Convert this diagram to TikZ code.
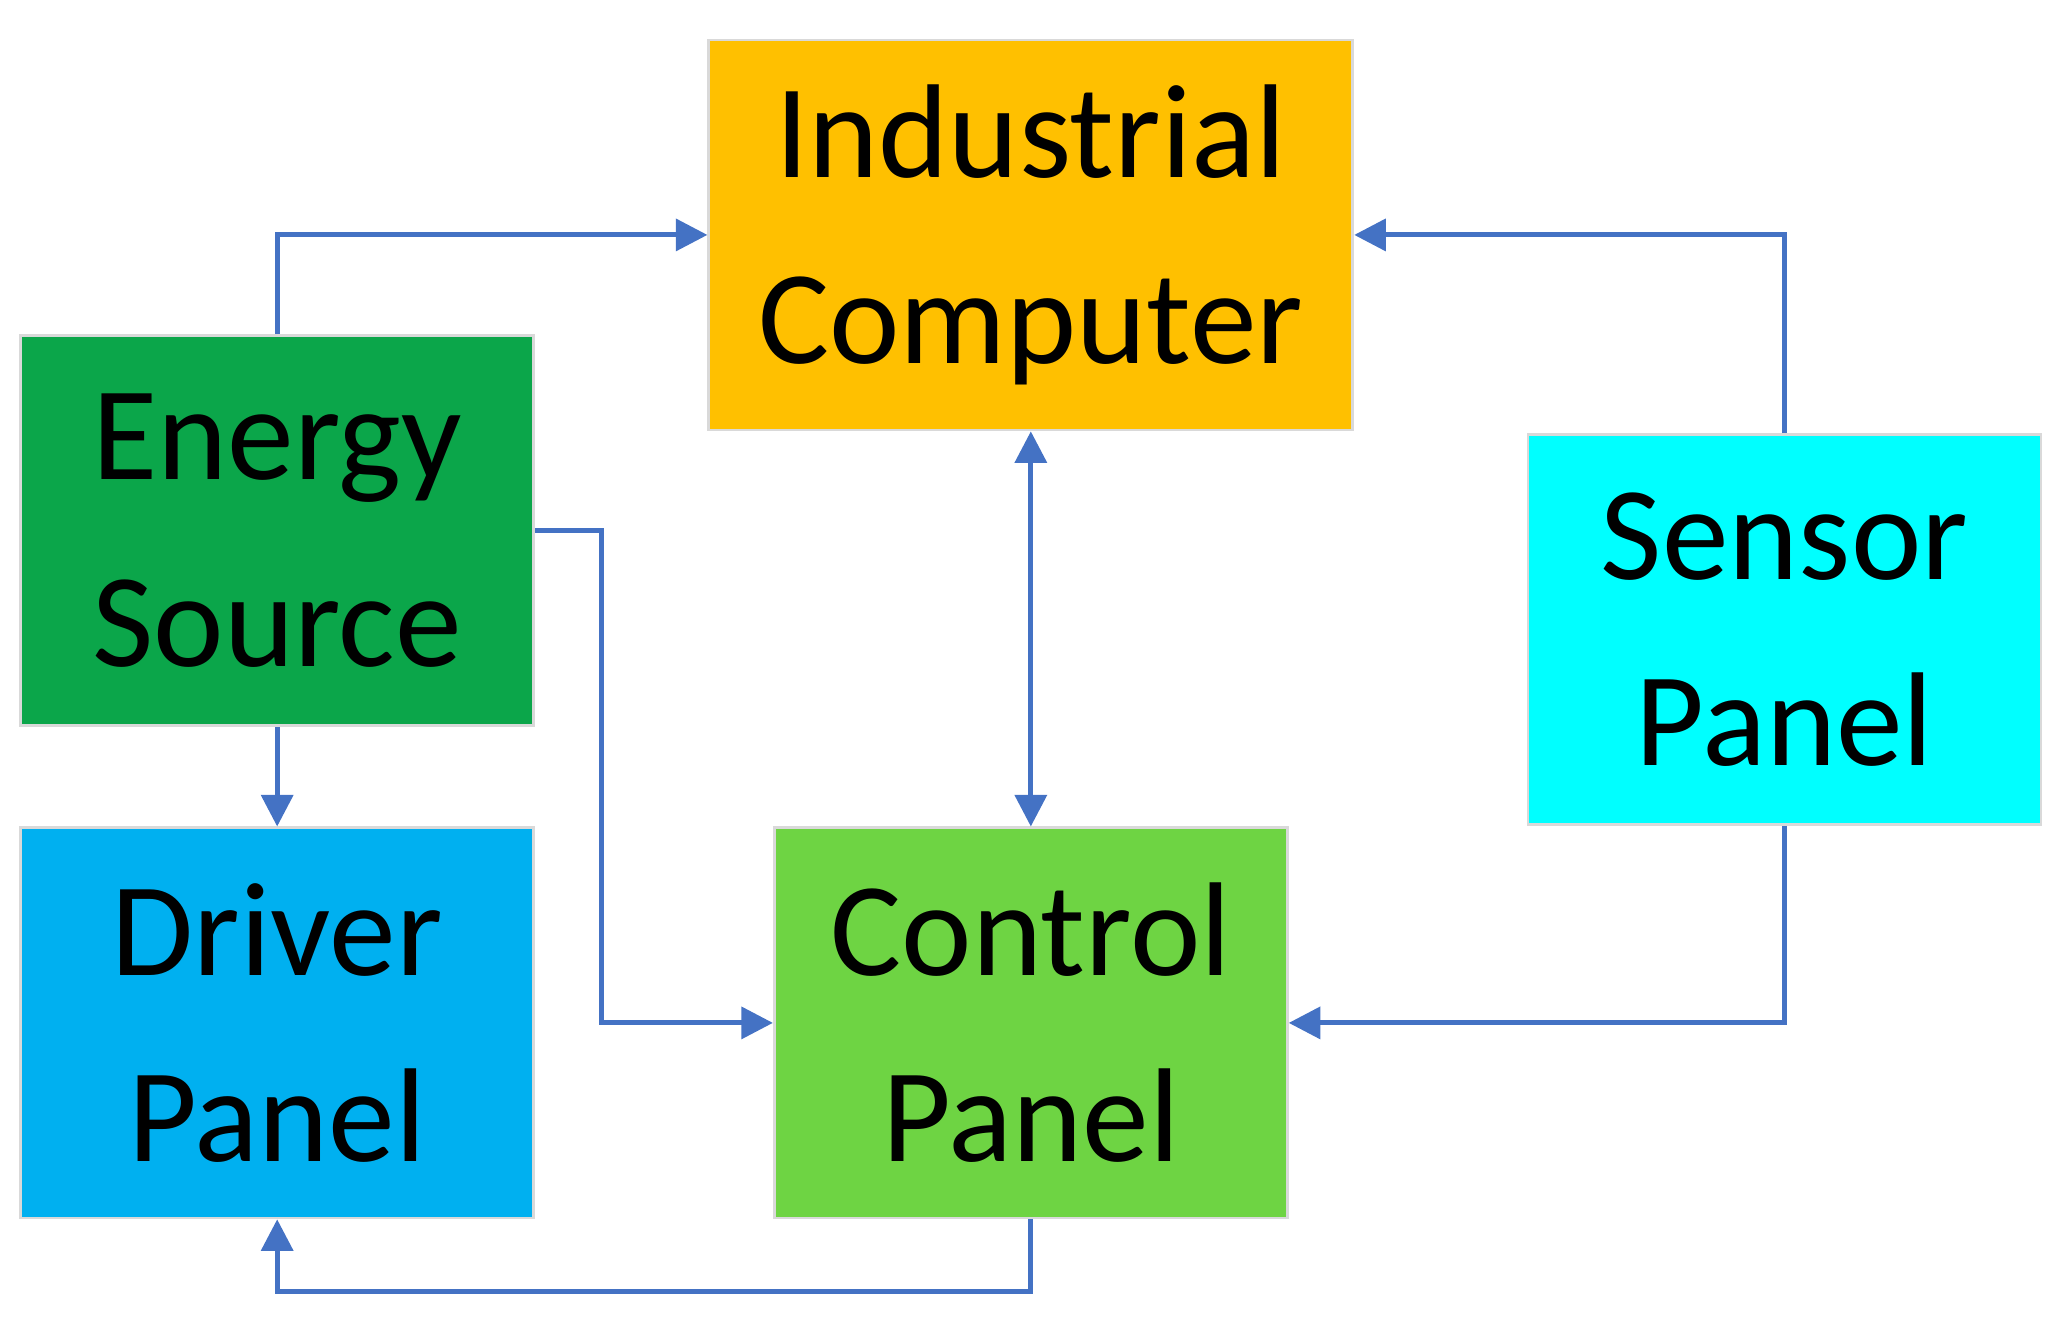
\documentclass[tikz,border=0pt]{standalone}
\usepackage{fontspec}
\setmainfont{Carlito}
\usetikzlibrary{arrows.meta}
\definecolor{orangeIC}{HTML}{FFC000}
\definecolor{greenES}{HTML}{0BA64A}
\definecolor{blueDP}{HTML}{00B0F0}
\definecolor{greenCP}{HTML}{6ED443}
\definecolor{cyanSP}{HTML}{00FFFF}
\definecolor{link}{HTML}{4472C4}
\tikzset{
	block/.style={draw=gray!30, line width=0.8pt, minimum width=5.13cm, minimum height=3.9cm,
		align=center, font=\fontsize{38}{53}\selectfont, inner sep=0pt},
	link/.style={draw=link, line width=1.4pt, -{Triangle[length=9pt,width=9pt]}}
}
\begin{document}
\begin{tikzpicture}[x=0.0132cm, y=-0.0132cm]
	\useasboundingbox (0,0) rectangle (1560,1008);
	\node[block, fill=orangeIC, minimum width=6.44cm] (ic) at (781,178) {Industrial\\Computer};
	\node[block, fill=greenES] (es) at (210,402) {Energy\\Source};
	\node[block, fill=blueDP] (dp) at (210,775) {Driver\\Panel};
	\node[block, fill=greenCP] (cp) at (781,775) {Control\\Panel};
	\node[block, fill=cyanSP] (sp) at (1352,477) {Sensor\\Panel};
	\draw[link] (es.north) |- (ic.west);
	\draw[link] (sp.north) |- (ic.east);
	\draw[link, {Triangle[length=9pt,width=9pt]}-{Triangle[length=9pt,width=9pt]}] (ic.south) -- (cp.north);
	\draw[link] (es.east) -- ++(50,0) |- (cp.west);
	\draw[link] (sp.south) |- (cp.east);
	\draw[link] (es.south) -- (dp.north);
	\draw[link] (cp.south) -- ++(0,55) -| (dp.south);
\end{tikzpicture}
\end{document}
